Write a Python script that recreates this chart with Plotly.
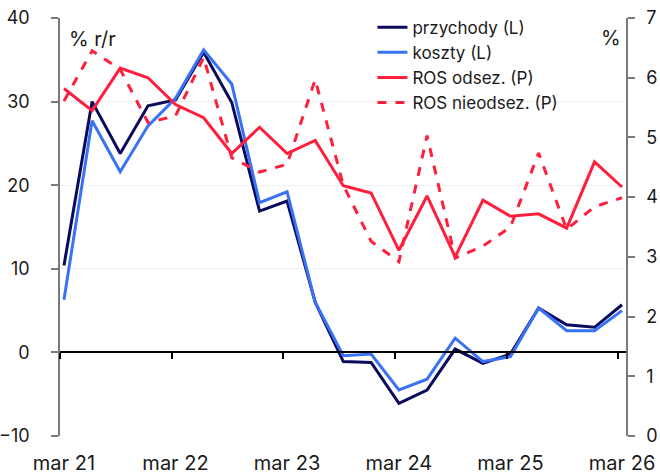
import plotly.graph_objects as go

quarters = ["2021-03", "2021-06", "2021-09", "2021-12",
            "2022-03", "2022-06", "2022-09", "2022-12",
            "2023-03", "2023-06", "2023-09", "2023-12",
            "2024-03", "2024-06", "2024-09", "2024-12",
            "2025-03", "2025-06", "2025-09", "2025-12",
            "2026-03"]
przychody = [10.4, 30.0, 23.8, 29.5, 30.2, 35.9, 29.9, 16.9, 18.1, 6.0,
             -1.1, -1.2, -6.1, -4.5, 0.4, -1.3, -0.2, 5.3, 3.3, 3.0, 5.7]
koszty = [6.3, 27.7, 21.6, 27.1, 30.4, 36.2, 32.1, 17.9, 19.2, 6.0,
          -0.4, -0.2, -4.5, -3.2, 1.7, -1.1, -0.5, 5.3, 2.6, 2.6, 5.0]
ros_odsez = [5.82, 5.45, 6.16, 6.00, 5.55, 5.33, 4.73, 5.17, 4.73, 4.95,
             4.19, 4.07, 3.11, 4.02, 3.00, 3.95, 3.68, 3.72, 3.48, 4.59, 4.17]
ros_nieodsez = [5.61, 6.45, 6.14, 5.25, 5.36, 6.34, 4.66, 4.42, 4.55, 5.97,
                4.20, 3.26, 2.92, 5.03, 2.98, 3.18, 3.50, 4.74, 3.46, 3.84, 3.99]

tick_years = ["2021", "2022", "2023", "2024", "2025", "2026"]
tick_labels = ["mar 21", "mar 22", "mar 23", "mar 24", "mar 25", "mar 26"]

dates = [q + "-14" for q in quarters]
label_dates = [y + "-03-14" for y in tick_years]
mark_dates = [y + "-03-01" for y in tick_years]
x_range = ["2021-03-01", "2026-03-27"]

NAVY = "#0a0b5c"
BLUE = "#3a72f6"
RED = "#ff1f3d"
FONT = "Inter"

fig = go.Figure()
fig.add_trace(go.Scatter(x=dates, y=przychody, name="przychody (L)", mode="lines",
                         line=dict(color=NAVY, width=3), yaxis="y"))
fig.add_trace(go.Scatter(x=dates, y=koszty, name="koszty (L)", mode="lines",
                         line=dict(color=BLUE, width=3), yaxis="y"))
fig.add_trace(go.Scatter(x=dates, y=ros_odsez, name="ROS odsez. (P)", mode="lines",
                         line=dict(color=RED, width=3), yaxis="y2"))
fig.add_trace(go.Scatter(x=dates, y=ros_nieodsez, name="ROS nieodsez. (P)", mode="lines",
                         line=dict(color=RED, width=3, dash="dash"), yaxis="y2"))
# invisible trace to activate the zero-line axis
fig.add_trace(go.Scatter(x=[dates[0]], y=[0], xaxis="x2", yaxis="y", mode="markers",
                         marker=dict(opacity=0), showlegend=False, hoverinfo="skip"))

fig.update_layout(
    width=660, height=474,
    margin=dict(l=60, r=34, t=18, b=38, autoexpand=False),
    plot_bgcolor="white", paper_bgcolor="white",
    font=dict(family=FONT, size=18, color="#1a1a1a"),
    showlegend=True,
    legend=dict(x=0.552, y=1.02, xanchor="left", yanchor="top",
                bgcolor="rgba(0,0,0,0)", font=dict(size=17),
                tracegroupgap=0),
    xaxis=dict(type="date", range=x_range, tickmode="array",
               tickvals=label_dates, ticktext=tick_labels, automargin=False,
               tickfont=dict(size=20),
               showgrid=False, showline=False, zeroline=False,
               ticks="outside", ticklen=9, tickcolor="rgba(0,0,0,0)"),
    xaxis2=dict(type="date", range=x_range, overlaying="x", anchor="free",
                position=0.2, tickmode="array", tickvals=mark_dates, automargin=False,
                showticklabels=False, showgrid=False, zeroline=False,
                showline=True, linecolor="#000000", linewidth=1.5,
                ticks="outside", ticklen=6, tickcolor="#000000", tickwidth=1.5),
    yaxis=dict(range=[-10, 40], dtick=10, showgrid=True, gridcolor="#f0f0f0",
               automargin=False, ticklabelstandoff=18,
               zeroline=False, showline=True, linecolor="#7a7a7a", linewidth=1.5,
               ticks="outside", ticklen=7, tickcolor="#7a7a7a", tickwidth=1.5),
    yaxis2=dict(range=[0, 7], dtick=1, overlaying="y", side="right",
                automargin=False, ticklabelstandoff=8,
                showgrid=False, zeroline=False, showline=True,
                linecolor="#7a7a7a", linewidth=1.5,
                ticks="outside", ticklen=7, tickcolor="#7a7a7a", tickwidth=1.5),
    annotations=[
        dict(text="% r/r", xref="paper", yref="paper", x=0.013, y=0.95,
             xanchor="left", yanchor="middle", showarrow=False, font=dict(size=20)),
        dict(text="%", xref="paper", yref="paper", x=0.973, y=0.952,
             xanchor="center", yanchor="middle", showarrow=False, font=dict(size=20)),
    ],
)

fig.write_html("out.html", config={"displayModeBar": False},
               post_script="document.body.style.margin='0px';")
